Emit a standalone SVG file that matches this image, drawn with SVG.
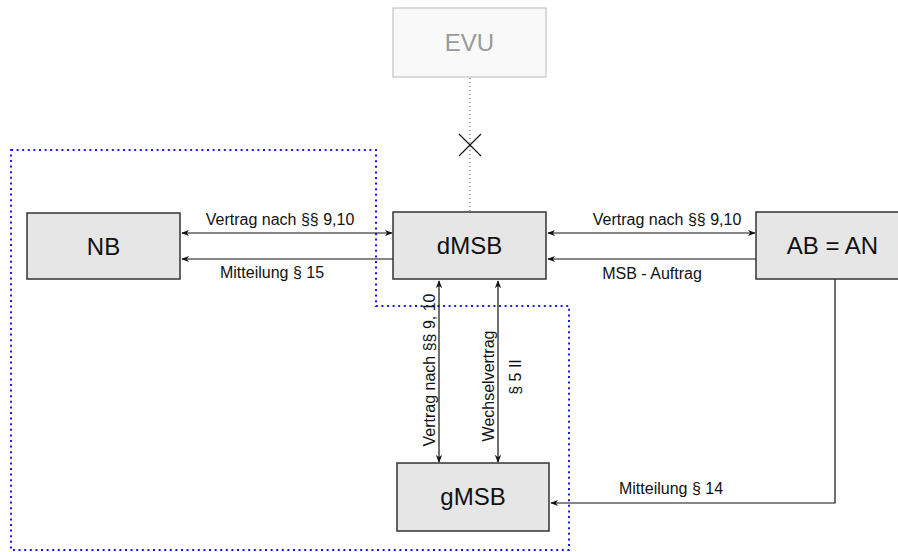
<svg xmlns="http://www.w3.org/2000/svg" width="898" height="552" viewBox="0 0 898 552">
<defs>
<style>
.box{fill:#e6e6e6;stroke:#333;stroke-width:1.5}
.lbl{font-family:"Liberation Sans",Arial,sans-serif;font-size:24px;fill:#111;text-anchor:middle}
.el{font-family:"Liberation Sans",Arial,sans-serif;font-size:16px;fill:#111;text-anchor:middle}
.ln{fill:none;stroke:#111;stroke-width:1.2}
</style>
<marker id="ah" viewBox="0 0 10 10" refX="9" refY="5" markerWidth="8" markerHeight="8" markerUnits="userSpaceOnUse" orient="auto-start-reverse">
<path d="M0,1 L10,5 L0,9 L3,5 Z" fill="#111"/>
</marker>
</defs>
<rect width="898" height="552" fill="#fff"/>
<g id="boundary">
<path d="M11,150 H376 V306 H569 V550 H11 Z" fill="none" stroke="#1a1aee" stroke-width="2" stroke-dasharray="2 3.6"/>
</g>
<g id="connectors">
<line x1="470" y1="78" x2="470" y2="212" stroke="#555" stroke-width="1" stroke-dasharray="1 3"/>
<path d="M459,134 L481,156 M481,134 L459,156" stroke="#111" stroke-width="1.1" fill="none"/>
<line class="ln" x1="182" y1="233" x2="392" y2="233" marker-start="url(#ah)" marker-end="url(#ah)"/>
<line class="ln" x1="393" y1="259" x2="182" y2="259" marker-end="url(#ah)"/>
<line class="ln" x1="548" y1="233" x2="755" y2="233" marker-start="url(#ah)" marker-end="url(#ah)"/>
<line class="ln" x1="756" y1="259" x2="548" y2="259" marker-end="url(#ah)"/>
<line class="ln" x1="439" y1="281" x2="439" y2="462" marker-start="url(#ah)" marker-end="url(#ah)"/>
<line class="ln" x1="498" y1="281" x2="498" y2="462" marker-start="url(#ah)" marker-end="url(#ah)"/>
<path class="ln" d="M835,279 V503 H551" marker-end="url(#ah)"/>
<text class="el" x="280" y="225">Vertrag nach §§ 9,10</text>
<text class="el" x="272" y="278">Mitteilung § 15</text>
<text class="el" x="667" y="225">Vertrag nach §§ 9,10</text>
<text class="el" x="652" y="279">MSB - Auftrag</text>
<text class="el" x="671" y="494">Mitteilung § 14</text>
<text class="el" transform="translate(435,370) rotate(-90)">Vertrag nach §§ 9, 10</text>
<text class="el" transform="translate(494,386) rotate(-90)">Wechselvertrag</text>
<text class="el" transform="translate(521,377) rotate(-90)">§ 5 II</text>
</g>
<g id="EVU">
<rect x="393" y="8" width="153" height="69" fill="#f9f9f9" stroke="#c4c4c4" stroke-width="1.2"/>
<text class="lbl" x="469.5" y="51" style="fill:#9a9a9a">EVU</text>
</g>
<g id="NB">
<rect class="box" x="27" y="213" width="153" height="66"/>
<text class="lbl" x="103.5" y="255">NB</text>
</g>
<g id="dMSB">
<rect class="box" x="393" y="212" width="153" height="67"/>
<text class="lbl" x="469.5" y="254">dMSB</text>
</g>
<g id="AB_AN">
<rect class="box" x="756" y="212" width="153" height="67"/>
<text class="lbl" x="832.5" y="254">AB = AN</text>
</g>
<g id="gMSB">
<rect class="box" x="397" y="463" width="152" height="68"/>
<text class="lbl" x="473" y="505">gMSB</text>
</g>
</svg>
